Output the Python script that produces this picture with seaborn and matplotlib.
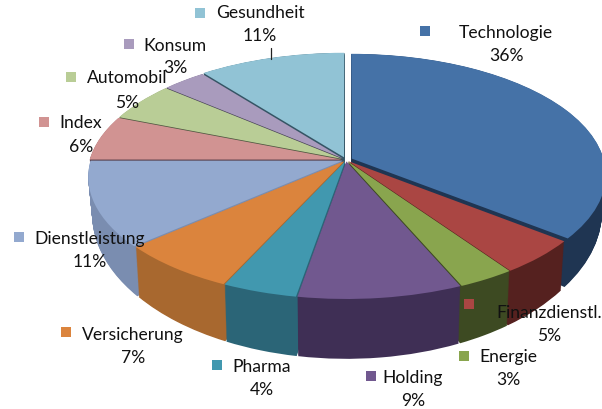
import matplotlib
matplotlib.use("Agg")
import matplotlib.pyplot as plt
import seaborn as sns
import numpy as np
from matplotlib.transforms import Transform, Affine2D

categories = ["Technologie", "Finanzdienstl.", "Energie", "Holding", "Pharma", "Versicherung",
              "Dienstleistung", "Index", "Automobil", "Konsum", "Gesundheit"]
values = [35.6, 4.7, 3.2, 9.2, 4.2, 6.7, 11.4, 6.0, 5.2, 3.2, 10.6]
percent_labels = ["36%", "5%", "3%", "9%", "4%", "7%", "11%", "6%", "5%", "3%", "11%"]
top_colors = ["#4572a7", "#aa4643", "#89a54e", "#71588f", "#4198af", "#db843d",
              "#93a9cf", "#d19392", "#b9cd96", "#a99bbd", "#91c3d5"]
wall_colors = ["#1f3552", "#55211f", "#3d4a22", "#3f2f55", "#2b6577", "#a8682f",
               "#7a8db0", "#4f3540", "#4f5640", "#454055", "#355565"]
explode = [0.026, 0.012, 0.012, 0.012, 0.012, 0.012, 0.014, 0.018, 0.018, 0.018, 0.024]

# Layout (pixels): label centre x, name y, percent y, marker x, marker y
label_layout = {
    "Technologie": (506, 33, 56, 425, 31),
    "Finanzdienstl.": (549, 313, 336, 469, 304),
    "Energie": (508, 357, 380, 464, 356),
    "Holding": (413, 378, 401, 371, 376),
    "Pharma": (262, 367, 390, 217, 365),
    "Versicherung": (133, 335, 358, 66, 332),
    "Dienstleistung": (90, 239, 262, 19, 237),
    "Index": (81, 123, 147, 44, 122),
    "Automobil": (127, 78, 103, 71, 77),
    "Konsum": (175, 46, 68, 129, 44),
    "Gesundheit": (260, 13, 36, 200, 13),
}

sns.set_theme(style="white")
plt.rcParams["font.family"] = ["Lato", "DejaVu Sans"]


class Perspective(Transform):
    input_dims = 2
    output_dims = 2
    is_separable = False
    has_inverse = False

    def __init__(self, k):
        super().__init__()
        self.k = k

    def transform_non_affine(self, pts):
        pts = np.asarray(pts, dtype=float)
        w = 1 + self.k * pts[:, 1]
        return np.column_stack([pts[:, 0] / w, pts[:, 1] / w])


CX, CY, RX, RY, K = 346, 160, 252, 119, 0.132
N_LAYERS, OFFSET, SX_BOTTOM, SY_BOTTOM = 60, 34, 0.985, 1.186

fig = plt.figure(figsize=(6.02, 4.09), dpi=100)
ax = fig.add_axes([0, 0, 1, 1])


def layer(colors, t):
    wedges, _ = ax.pie(values, colors=colors, startangle=90, counterclock=False,
                       explode=explode, radius=1.0,
                       wedgeprops=dict(linewidth=0))
    sx = 1 + (SX_BOTTOM - 1) * t
    sy = 1 + (SY_BOTTOM - 1) * t
    tr = (Perspective(K)
          + Affine2D().scale(RX * sx, -RY * sy).translate(CX, CY + OFFSET * t)
          + ax.transData)
    for w in wedges:
        w.set_transform(tr)
        w.set_clip_on(False)


for i in range(N_LAYERS, 0, -1):
    layer(wall_colors, i / N_LAYERS)
layer(top_colors, 0.0)

ax.set_aspect("auto")
ax.set_xlim(0, 602)
ax.set_ylim(409, 0)
ax.axis("off")

for name, pct, col in zip(categories, percent_labels, top_colors):
    cx, y1, y2, mx, my = label_layout[name]
    ax.text(cx, y1, name, ha="center", va="center", fontsize=12.6, color="#111111")
    ax.text(cx, y2, pct, ha="center", va="center", fontsize=12.6, color="#111111")
    ax.scatter([mx], [my], marker="s", s=62, color=col, linewidths=0, zorder=5)

ax.plot([271, 271], [48, 59], color="#222222", lw=0.9)

fig.savefig("out.png", dpi=100)
